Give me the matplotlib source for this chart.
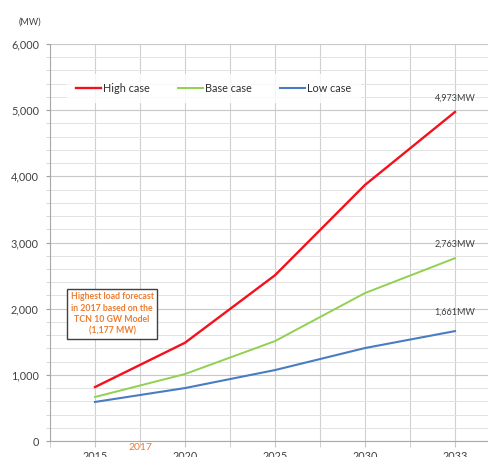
import matplotlib
matplotlib.use("Agg")
import matplotlib.pyplot as plt
from matplotlib.ticker import MultipleLocator, FixedLocator

plt.rcParams['font.family'] = ['Lato', 'DejaVu Sans']

# Forecast years and peak demand scenarios (MW)
years = ["2015", "2020", "2025", "2030", "2033"]
high_case = [815, 1485, 2505, 3870, 4973]
base_case = [665, 1012, 1510, 2236, 2763]
low_case = [590, 800, 1072, 1405, 1661]
end_labels = ["4,973MW", "2,763MW", "1,661MW"]
note_text = "Highest load forecast\nin 2017 based on the\nTCN 10 GW Model\n(1,177 MW)"

fig = plt.figure(figsize=(4.89, 4.57), dpi=100)
ax = fig.add_axes([50/489, 1-441/457, 1-50/489, (441-44)/457])

x = list(range(len(years)))
ax.plot(x, high_case, color="#F5101E", lw=1.7, label="High case", zorder=4)
ax.plot(x, base_case, color="#92D050", lw=1.4, label="Base case", zorder=4)
ax.plot(x, low_case, color="#4A7CC4", lw=1.5, label="Low case", zorder=4)

ax.set_xlim(-0.5, (489-95)/90)
ax.set_ylim(0, 6000)

# y axis: major every 1000, minor every 200
ax.yaxis.set_major_locator(MultipleLocator(1000))
ax.yaxis.set_minor_locator(MultipleLocator(200))
ax.set_yticklabels([f"{int(v):,}" for v in ax.get_yticks()])
ax.tick_params(axis="y", which="major", length=3, color="#a0a0a0",
               labelsize=7.8, labelcolor="#404040", pad=5)
ax.tick_params(axis="y", which="minor", length=3, color="#d0d0d0")

# x axis: category labels at integer positions, grid every half category
ax.set_xticks(x)
ax.set_xticklabels(years)
ax.xaxis.set_minor_locator(FixedLocator([i + 0.5 for i in range(-1, 5)]))
ax.tick_params(axis="x", which="both", length=4, color="#c8c8c8",
               labelsize=7.8, labelcolor="#404040", pad=3)

ax.grid(True, which="major", axis="y", color="#c8c8c8", lw=0.8)
ax.grid(True, which="minor", axis="y", color="#e2e2e2", lw=0.7)
ax.grid(True, which="both", axis="x", color="#d0d0d0", lw=0.8)
ax.set_axisbelow(True)

for s in ["top", "right"]:
    ax.spines[s].set_visible(False)
ax.spines["left"].set_color("#a8a8a8")
ax.spines["bottom"].set_color("#a8a8a8")

# Value labels at the 2033 end points
for series, lab, off in zip([high_case, base_case, low_case], end_labels, [14, 14, 19]):
    ax.annotate(lab, (x[-1], series[-1]), xytext=(0, off), textcoords="offset pixels",
                ha="center", va="center", fontsize=6.5, color="#404040")

# Note box about the 2017 forecast
ax.text(0.19, 1918, note_text, ha="center", va="center", fontsize=6.3,
        fontweight="bold", color="#ED7D31", linespacing=1.35, zorder=5,
        bbox=dict(boxstyle="square,pad=0.35", fc="white", ec="#404040", lw=1.0))

ax.text(0.5, -0.004, "2017", transform=ax.get_xaxis_transform(), ha="center",
        va="top", fontsize=7.5, color="#ED7D31")

fig.text(30/489, 1-22/457, "(MW)", ha="center", va="center", fontsize=6.5, color="#404040")

leg = ax.legend(loc="center left", bbox_to_anchor=(62/489, 1-88/457),
                bbox_transform=fig.transFigure, ncol=3, frameon=True,
                fontsize=7.8, handlelength=2.3, handletextpad=0.2,
                columnspacing=2.6, borderpad=0.8, fancybox=False)
leg.get_frame().set_facecolor("white")
leg.get_frame().set_edgecolor("white")
for t in leg.get_texts():
    t.set_color("#303030")

fig.savefig("out.png", dpi=100)
